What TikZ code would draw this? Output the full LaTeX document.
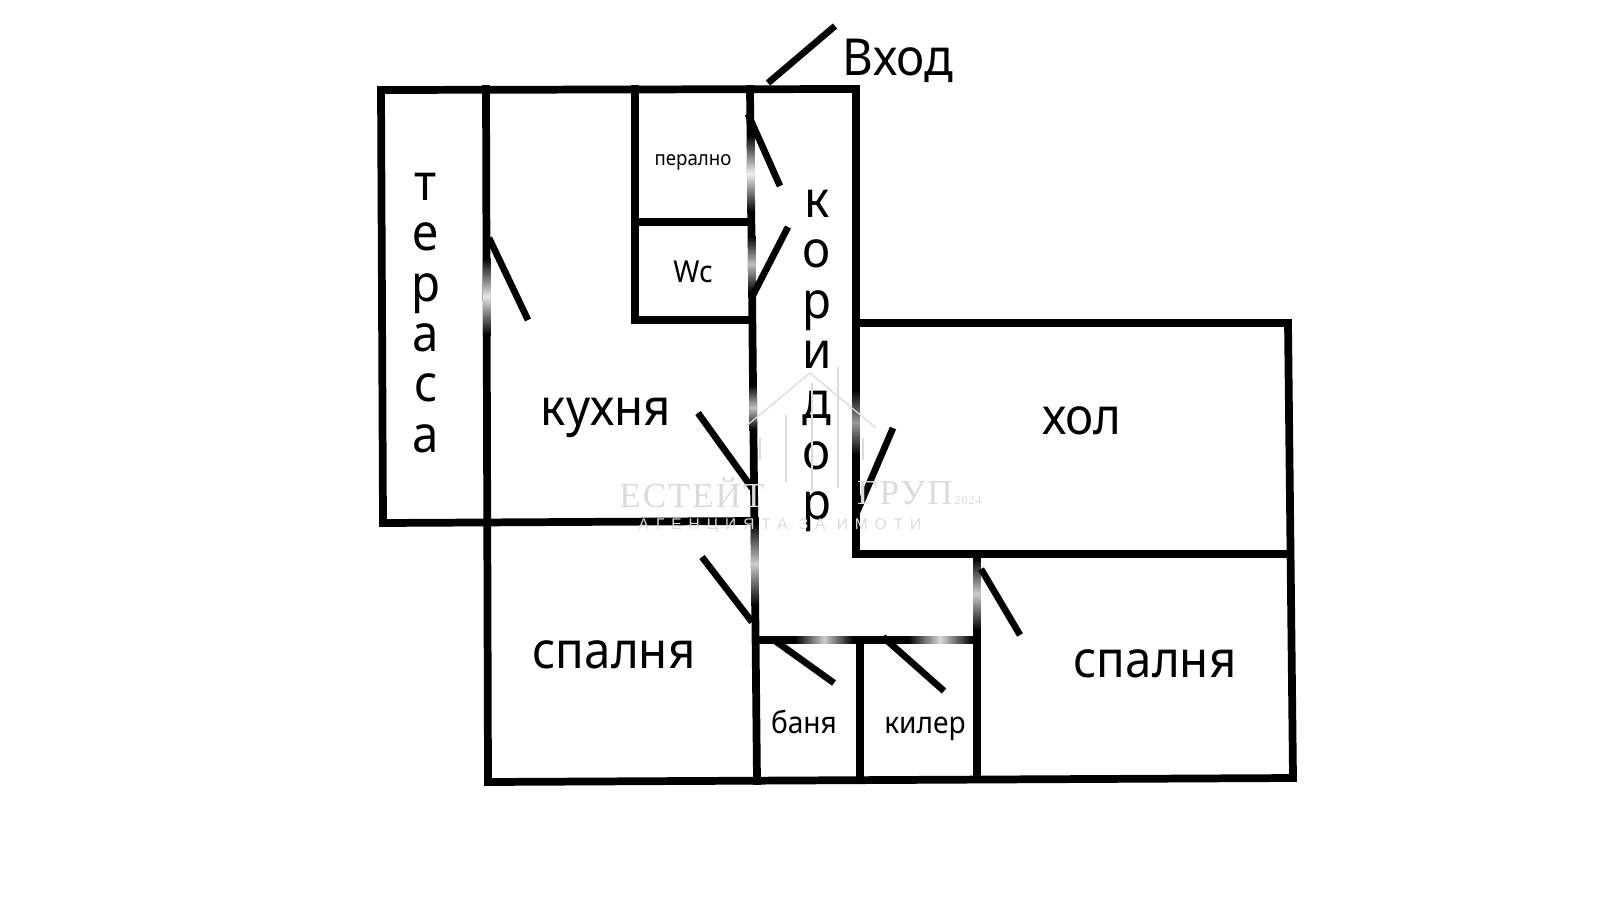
\documentclass[tikz,border=0pt]{standalone}
\usepackage{fontspec}
\setmainfont[FakeStretch=0.93]{Noto Sans}
\newfontfamily\markfont[LetterSpace=6]{Liberation Serif}
\newfontfamily\markwide[LetterSpace=45]{Liberation Sans}
\usetikzlibrary{calc}

\begin{document}
\begin{tikzpicture}
	[x=0.01cm,y=-0.01cm,
	wall/.style={line width=2.2pt,line cap=rect},
	doorleaf/.style={line width=1.9pt},
	roomtext/.style={anchor=base,inner sep=0pt,font=\fontsize{14.5pt}{14pt}\selectfont},
	midtext/.style={anchor=base,inner sep=0pt,font=\fontsize{8.6pt}{9pt}\selectfont},
	tinytext/.style={anchor=base,inner sep=0pt,font=\fontsize{5.7pt}{7pt}\selectfont},
	stacktext/.style={inner sep=0pt,align=center,font=\fontsize{14.5pt}{14.3pt}\selectfont},
	logoline/.style={draw=black!14,line width=0.35pt},
	logotext/.style={inner sep=0pt,text=black!14}]
	\useasboundingbox (0,0) rectangle (1600,900);
	
	\coordinate (t1) at (381,90);
	\coordinate (t2) at (486,89);
	\coordinate (t3) at (383,523);
	\coordinate (t4) at (488,782);
	\coordinate (k1) at (635,89);
	\coordinate (k2) at (635,320);
	\coordinate (k3) at (751,320);
	\coordinate (k4) at (750,222);
	\coordinate (k5) at (635,222);
	\coordinate (k6) at (755,521);
	\coordinate (c1) at (750,89);
	\coordinate (c2) at (757,781);
	\coordinate (c3) at (856,89);
	\coordinate (c4) at (856,554);
	\coordinate (h1) at (856,323);
	\coordinate (h2) at (1288,323);
	\coordinate (h3) at (1290,554);
	\coordinate (h4) at (1293,778);
	\coordinate (b1) at (757,640);
	\coordinate (b2) at (977,640);
	\coordinate (b3) at (977,554);
	\coordinate (b4) at (977,779);
	\coordinate (b5) at (860,640);
	\coordinate (b6) at (860,780);
	
	\foreach \startNode/\endNode in {t1/c3,t1/t3,t2/t4,t3/k6,k1/k2,k2/k3,k5/k4,c1/c2,c3/c4,h1/h2,h2/h4,c4/h3,t4/h4,b1/b2,b3/b4,b5/b6}
	{
		\draw[wall] (\startNode) -- (\endNode);
	}
	
	\foreach \wallx/\topy/\boty/\lvl in {486.7/258/335/10,751/135/212/6,752/236/292/25,753/385/430/25,856/390/455/40,755/523/605/20,977/558/630/20}
	{
		\shade[top color=black,bottom color=black,middle color=black!\lvl] (\wallx-3.9,\topy) rectangle (\wallx+3.9,\boty);
	}
	\foreach \leftx/\rightx/\lvl in {795/853/20,908/972/15}
	{
		\shade[left color=black,right color=black,middle color=black!\lvl] (\leftx,636.1) rectangle (\rightx,643.9);
	}
	
	\coordinate (d1) at (768,83);
	\coordinate (d2) at (835,26);
	\coordinate (d3) at (748,114);
	\coordinate (d4) at (780,186);
	\coordinate (d5) at (752,297);
	\coordinate (d6) at (788,227);
	\coordinate (d7) at (489,238);
	\coordinate (d8) at (528,320);
	\coordinate (d9) at (698,413);
	\coordinate (d10) at (752,488);
	\coordinate (d11) at (893,428);
	\coordinate (d12) at (857,512);
	\coordinate (d13) at (702,557);
	\coordinate (d14) at (752,622);
	\coordinate (d15) at (774,640);
	\coordinate (d16) at (834,683);
	\coordinate (d17) at (883,637);
	\coordinate (d18) at (944,691);
	\coordinate (d19) at (981,569);
	\coordinate (d20) at (1020,635);
	
	\foreach \startNode/\endNode in {d1/d2,d3/d4,d5/d6,d7/d8,d9/d10,d11/d12,d13/d14,d15/d16,d17/d18,d19/d20}
	{
		\draw[doorleaf] (\startNode) -- (\endNode);
	}
	
	\node[roomtext] (entry) at (898,75) {Вход};
	\node[roomtext] (kitchen) at (606,425) {кухня};
	\node[roomtext] (bedroomA) at (614,668) {спалня};
	\node[roomtext] (bedroomB) at (1155,677) {спалня};
	\node[roomtext] (hall) at (1082,434) {хол};
	\node[midtext] (bath) at (804,733) {баня};
	\node[midtext] (closet) at (925,733) {килер};
	\node[midtext] (wc) at (693,282) {Wc};
	\node[tinytext] (laundry) at (693,165) {перално};
	\node[stacktext] (terrace) at (426,313) {т\\е\\р\\а\\с\\а};
	\node[stacktext] (corridor) at (817,361) {к\\о\\р\\и\\д\\о\\р};
	
	\coordinate (r1) at (745,427);
	\coordinate (r2) at (810,373);
	\coordinate (r3) at (876,428);
	\coordinate (v1) at (786,415);
	\coordinate (v2) at (786,482);
	\coordinate (v3) at (812,383);
	\coordinate (v4) at (812,490);
	\coordinate (v5) at (838,367);
	\coordinate (v6) at (838,488);
	\coordinate (v7) at (760,438);
	\coordinate (v8) at (760,460);
	\coordinate (v9) at (863,438);
	\coordinate (v10) at (863,460);
	\draw[logoline] (r1) -- (r2) -- (r3);
	\foreach \startNode/\endNode in {v1/v2,v3/v4,v5/v6,v7/v8,v9/v10}
	{
		\draw[logoline] (\startNode) -- (\endNode);
	}
	\node[logotext,font=\markfont\fontsize{10pt}{10pt}\selectfont] (logoA) at (692,493) {ЕСТЕЙТ};
	\node[logotext,font=\markfont\fontsize{10pt}{10pt}\selectfont] (logoB) at (905,493) {ГРУП};
	\node[logotext,font=\markfont\fontsize{3.5pt}{3.5pt}\selectfont] (logoC) at (968,500) {2024};
	\node[logotext,font=\markwide\fontsize{4.4pt}{4.4pt}\selectfont] (logoD) at (780,526) {АГЕНЦИЯТА ЗА ИМОТИ};
\end{tikzpicture}
\end{document}
